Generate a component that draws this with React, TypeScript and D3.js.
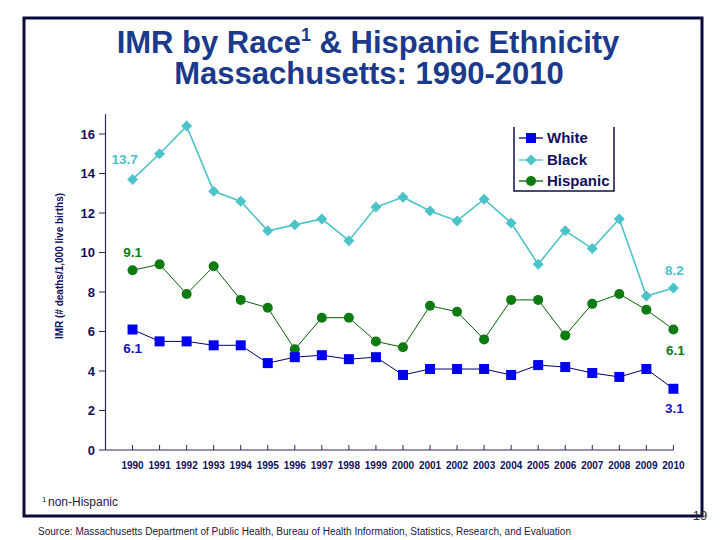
import React from "react";
import * as d3 from "d3";

const years = [1990, 1991, 1992, 1993, 1994, 1995, 1996, 1997, 1998, 1999, 2000, 2001, 2002, 2003, 2004, 2005, 2006, 2007, 2008, 2009, 2010];
const white = [6.1, 5.5, 5.5, 5.3, 5.3, 4.4, 4.7, 4.8, 4.6, 4.7, 3.8, 4.1, 4.1, 4.1, 3.8, 4.3, 4.2, 3.9, 3.7, 4.1, 3.1];
const black = [13.7, 15.0, 16.4, 13.1, 12.6, 11.1, 11.4, 11.7, 10.6, 12.3, 12.8, 12.1, 11.6, 12.7, 11.5, 9.4, 11.1, 10.2, 11.7, 7.8, 8.2];
const hispanic = [9.1, 9.4, 7.9, 9.3, 7.6, 7.2, 5.1, 6.7, 6.7, 5.5, 5.2, 7.3, 7.0, 5.6, 7.6, 7.6, 5.8, 7.4, 7.9, 7.1, 6.1];
const yTicks = [0, 2, 4, 6, 8, 10, 12, 14, 16];
const seriesNames = ["White", "Black", "Hispanic"];

const FONT = "'Liberation Sans', Arial, sans-serif";
const NAVY = "#0f0f5c";
const C_WHITE = "#0000f0";
const C_WHITE_LINE = "#000070";
const C_BLACK = "#4cc3c8";
const C_HISP = "#0d7a12";
const C_HISP_LINE = "#0a5f0a";

export default function App() {
  const x = d3.scaleLinear().domain([1989, 2010]).range([105.5, 673.4]);
  const y = d3.scaleLinear().domain([0, 17]).range([450, 114.25]);
  const line = d3
    .line<number>()
    .x((_, i) => x(years[i]))
    .y((d) => y(d));

  const first = 0;
  const last = years.length - 1;

  const square = (cx: number, cy: number, k: string) => (
    <rect key={k} x={cx - 5} y={cy - 5} width={10} height={10} fill={C_WHITE} />
  );
  const diamond = (cx: number, cy: number, k: string) => (
    <path key={k} d={`M${cx},${cy - 5.5}L${cx + 5.5},${cy}L${cx},${cy + 5.5}L${cx - 5.5},${cy}Z`} fill={C_BLACK} />
  );
  const circle = (cx: number, cy: number, k: string) => (
    <circle key={k} cx={cx} cy={cy} r={5} fill={C_HISP} />
  );

  const legendRows = [
    { name: seriesNames[0], color: C_WHITE_LINE, marker: square },
    { name: seriesNames[1], color: C_BLACK, marker: diamond },
    { name: seriesNames[2], color: C_HISP_LINE, marker: circle },
  ];
  const legendY = [138, 160, 181];

  return (
    <svg width={720} height={540} style={{ position: "absolute", left: 0, top: 0, background: "#fff" }} fontFamily={FONT}>
      <rect x={0} y={0} width={720} height={540} fill="#fff" />
      {/* slide frame */}
      <rect x={24} y={18} width={678} height={498} fill="none" stroke="#0a0a3c" strokeWidth={3} />

      {/* title */}
      <text textAnchor="middle" fontSize={31} fontWeight="bold" fill="#1b3a8c">
        <tspan x={368} y={53}>
          IMR by Race<tspan fontSize={18} dy={-12}>1</tspan>
          <tspan dy={12}> &amp; Hispanic Ethnicity</tspan>
        </tspan>
        <tspan x={369} y={84}>Massachusetts: 1990-2010</tspan>
      </text>

      {/* axes */}
      <line x1={105.5} x2={105.5} y1={y(17)} y2={y(0)} stroke="#2a2a5a" strokeWidth={1.2} />
      <line x1={105.5} x2={x(2010)} y1={y(0)} y2={y(0)} stroke="#2a2a5a" strokeWidth={1.2} />
      {yTicks.map((t) => (
        <g key={"yt" + t}>
          <line x1={99} x2={105.5} y1={y(t)} y2={y(t)} stroke="#2a2a5a" strokeWidth={1} />
          <text x={95} y={y(t)} dy="0.35em" textAnchor="end" fontSize={13} fontWeight="bold" fill={NAVY}>
            {t}
          </text>
        </g>
      ))}
      {years.map((yr) => (
        <g key={"xt" + yr}>
          <line x1={x(yr)} x2={x(yr)} y1={y(0)} y2={y(0) - 5} stroke="#2a2a5a" strokeWidth={1} />
          <text x={x(yr)} y={469} textAnchor="middle" fontSize={10} fontWeight="bold" fill={NAVY}>
            {yr}
          </text>
        </g>
      ))}
      <text transform="translate(63,266) rotate(-90)" textAnchor="middle" fontSize={10} fontWeight="bold" fill={NAVY}>
        IMR (# deaths/1,000 live births)
      </text>

      {/* series lines */}
      <path d={line(black) || ""} fill="none" stroke={C_BLACK} strokeWidth={1.6} />
      <path d={line(hispanic) || ""} fill="none" stroke={C_HISP_LINE} strokeWidth={1} />
      <path d={line(white) || ""} fill="none" stroke={C_WHITE_LINE} strokeWidth={1} />

      {black.map((v, i) => diamond(x(years[i]), y(v), "b" + i))}
      {hispanic.map((v, i) => circle(x(years[i]), y(v), "h" + i))}
      {white.map((v, i) => square(x(years[i]), y(v), "w" + i))}

      {/* data labels */}
      <text x={x(years[first]) - 8} y={y(black[first]) - 20} dy="0.35em" textAnchor="middle" fontSize={13.5} fontWeight="bold" fill={C_BLACK}>
        {black[first].toFixed(1)}
      </text>
      <text x={x(years[first])} y={y(hispanic[first]) - 18} dy="0.35em" textAnchor="middle" fontSize={13.5} fontWeight="bold" fill={C_HISP}>
        {hispanic[first].toFixed(1)}
      </text>
      <text x={x(years[first])} y={y(white[first]) + 19} dy="0.35em" textAnchor="middle" fontSize={13.5} fontWeight="bold" fill="#1414b4">
        {white[first].toFixed(1)}
      </text>
      <text x={x(years[last]) + 1} y={y(black[last]) - 18} dy="0.35em" textAnchor="middle" fontSize={13.5} fontWeight="bold" fill={C_BLACK}>
        {black[last].toFixed(1)}
      </text>
      <text x={x(years[last]) + 2} y={y(hispanic[last]) + 21} dy="0.35em" textAnchor="middle" fontSize={13.5} fontWeight="bold" fill={C_HISP}>
        {hispanic[last].toFixed(1)}
      </text>
      <text x={x(years[last]) + 1} y={y(white[last]) + 19} dy="0.35em" textAnchor="middle" fontSize={13.5} fontWeight="bold" fill="#1414b4">
        {white[last].toFixed(1)}
      </text>

      {/* legend */}
      <path d="M514,127V191H614V127" fill="none" stroke="#0f0f4a" strokeWidth={1.5} />
      {legendRows.map((r, i) => (
        <g key={"lg" + i}>
          <line x1={519} x2={543} y1={legendY[i]} y2={legendY[i]} stroke={r.color} strokeWidth={1.3} />
          {r.marker(531, legendY[i], "lm" + i)}
          <text x={547} y={legendY[i]} dy="0.35em" fontSize={15} fontWeight="bold" fill={NAVY}>
            {r.name}
          </text>
        </g>
      ))}

      {/* footnotes */}
      <text x={42} y={506} fontSize={12} fill="#1a1a3a">
        <tspan fontSize={8} dy={-4}>1</tspan>
        <tspan x={48} dy={4}>non-Hispanic</tspan>
      </text>
      <text x={38} y={535} fontSize={10} fill="#1a1a3a" textLength={533} lengthAdjust="spacingAndGlyphs">
        Source:  Massachusetts Department of Public Health, Bureau of Health Information, Statistics, Research, and Evaluation
      </text>
      <text x={700} y={520} textAnchor="middle" fontSize={13} fill="#2a2a40">
        19
      </text>
    </svg>
  );
}
